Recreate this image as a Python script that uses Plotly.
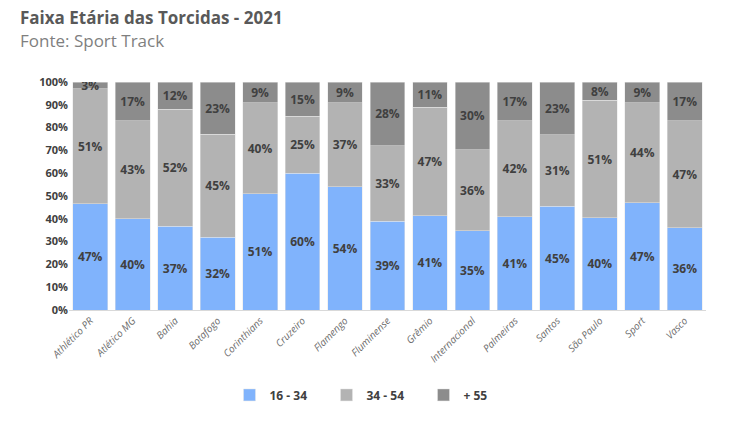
import plotly.graph_objects as go

clubs = ["Athlético PR", "Atlético MG", "Bahia", "Botafogo", "Corinthians", "Cruzeiro",
         "Flamengo", "Fluminense", "Grêmio", "Internacional", "Palmeiras", "Santos",
         "São Paulo", "Sport", "Vasco"]
age_16_34 = [47, 40, 37, 32, 51, 60, 54, 39, 41, 35, 41, 45, 40, 47, 36]
age_34_54 = [51, 43, 52, 45, 40, 25, 37, 33, 47, 36, 42, 31, 51, 44, 47]
age_55 = [3, 17, 12, 23, 9, 15, 9, 28, 11, 30, 17, 23, 8, 9, 17]

series = [
    ("16 - 34", age_16_34, "#80b3fc"),
    ("34 - 54", age_34_54, "#b3b3b3"),
    ("+ 55", age_55, "#8c8c8c"),
]

fig = go.Figure()
for name, vals, color in series:
    fig.add_trace(go.Bar(
        x=clubs, y=vals, name=name,
        marker=dict(color=color, line=dict(color="#e6e6e6", width=0.5)),
        text=[f"{v}%" for v in vals],
        textposition="inside", insidetextanchor="middle", textangle=0,
        constraintext="none",
        textfont=dict(family="Open Sans", size=12, color="#404040", weight="bold"),
    ))

fig.update_layout(
    barmode="stack", barnorm="percent", bargap=0.18,
    width=750, height=421,
    margin=dict(l=69, r=44, t=82, b=111, autoexpand=False),
    paper_bgcolor="white", plot_bgcolor="white",
    font=dict(family="Open Sans", color="#595959"),
    showlegend=True,
    legend=dict(orientation="h", x=0.5, xanchor="center", xref="container",
                y=0.062, yanchor="middle", yref="container",
                font=dict(size=12, color="#404040", weight="bold"),
                itemwidth=30, entrywidth=52, entrywidthmode="pixels",
                traceorder="normal"),
)
fig.add_annotation(text="<b>Faixa Etária das Torcidas - 2021</b>", xref="paper", yref="paper",
                   x=-0.080, y=1.285, xanchor="left", yanchor="middle", showarrow=False,
                   font=dict(family="Open Sans", size=17, color="#595959"))
fig.add_annotation(text="Fonte: Sport Track", xref="paper", yref="paper",
                   x=-0.080, y=1.184, xanchor="left", yanchor="middle", showarrow=False,
                   font=dict(family="Open Sans", size=17, color="#7f7f7f"))

fig.update_yaxes(range=[0, 100], tickvals=list(range(0, 101, 10)),
                 ticktext=[f"{v}%" for v in range(0, 101, 10)],
                 showgrid=False, zeroline=False, showline=False, automargin=False,
                 tickfont=dict(size=11, color="#404040", weight="bold"), ticks="", ticklen=0)
fig.update_xaxes(tickangle=-45, showgrid=False, showline=True, linecolor="#d9d9d9", linewidth=1,
                 automargin=False,
                 tickfont=dict(size=10, color="#6b6b6b", style="italic"))

fig.write_html("out.html")
